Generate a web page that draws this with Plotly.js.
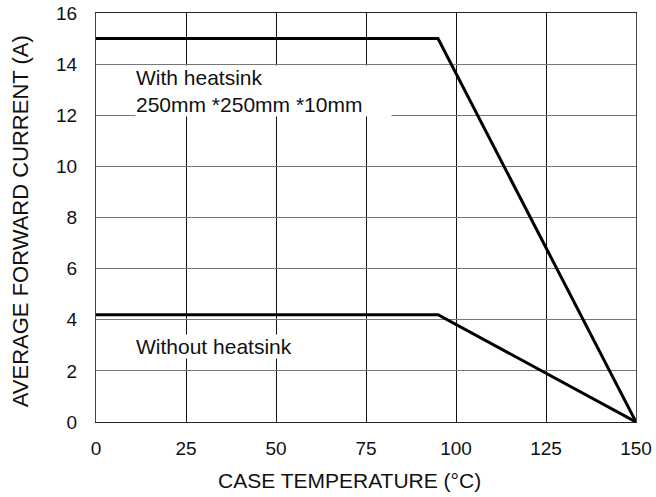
<!DOCTYPE html>
<html>
<head>
<meta charset="utf-8">
<script src="https://cdn.plot.ly/plotly-3.0.1.min.js"></script>
<style>html,body{margin:0;padding:0;background:#fff;}#chart{width:656px;height:497px;}</style>
</head>
<body>
<div id="chart"></div>
<script>
// Data
const tempWith = [0, 95, 150];
const currentWith = [15, 15, 0];
const tempWithout = [0, 95, 150];
const currentWithout = [4.2, 4.2, 0];
const xTicks = [0, 25, 50, 75, 100, 125, 150];
const yTicks = [0, 2, 4, 6, 8, 10, 12, 14, 16];
const labelWith = "With heatsink<br>250mm *250mm *10mm";
const labelWithout = "Without heatsink";
const xTitle = "CASE TEMPERATURE (°C)";
const yTitle = "AVERAGE FORWARD CURRENT (A)";

const FONT = "Liberation Sans, Arial, sans-serif";

const traces = [
  {x: tempWith, y: currentWith, mode: "lines", line: {color: "#000", width: 3}, hoverinfo: "skip"},
  {x: tempWithout, y: currentWithout, mode: "lines", line: {color: "#000", width: 3}, hoverinfo: "skip"}
];

const layout = {
  width: 656, height: 497,
  margin: {l: 96, r: 20, t: 13, b: 75},
  paper_bgcolor: "#fff", plot_bgcolor: "#fff",
  showlegend: false,
  font: {family: FONT, size: 19, color: "#000"},
  xaxis: {
    range: [0, 150], tickvals: xTicks, ticktext: xTicks.map(String),
    showgrid: true, gridcolor: "#111", gridwidth: 1,
    showline: true, linecolor: "#222", linewidth: 1, mirror: true,
    zeroline: false, ticks: "", ticklen: 0, ticklabelstandoff: 9,
    tickfont: {family: FONT, size: 19, color: "#111"}
  },
  yaxis: {
    range: [0, 16], tickvals: yTicks, ticktext: yTicks.map(String),
    showgrid: true, gridcolor: "#777", gridwidth: 1,
    showline: true, linecolor: "#444", linewidth: 1, mirror: true,
    zeroline: false, ticks: "", ticklen: 0, ticklabelstandoff: 14,
    tickfont: {family: FONT, size: 19, color: "#111"}
  },
  annotations: [
    {x: 10.8, y: 12.95, xref: "x", yref: "y", text: labelWith, showarrow: false,
     xanchor: "left", yanchor: "middle", align: "left", width: 255, bgcolor: "#fff",
     borderpad: 0, font: {family: FONT, size: 21, color: "#111"}},
    {x: 10.8, y: 2.95, xref: "x", yref: "y", text: labelWithout, showarrow: false,
     xanchor: "left", yanchor: "middle", align: "left", bgcolor: "#fff",
     borderpad: 0, font: {family: FONT, size: 21, color: "#111"}},
    {x: 0.469, y: -0.144, xref: "paper", yref: "paper", text: xTitle, showarrow: false,
     xanchor: "center", yanchor: "middle", font: {family: FONT, size: 21, color: "#111"}},
    {x: -0.1407, y: 0.491, xref: "paper", yref: "paper", text: yTitle, showarrow: false,
     textangle: -90, xanchor: "center", yanchor: "middle", font: {family: FONT, size: 22, color: "#111"}}
  ]
};

Plotly.newPlot("chart", traces, layout, {displayModeBar: false, staticPlot: true});
</script>
</body>
</html>
